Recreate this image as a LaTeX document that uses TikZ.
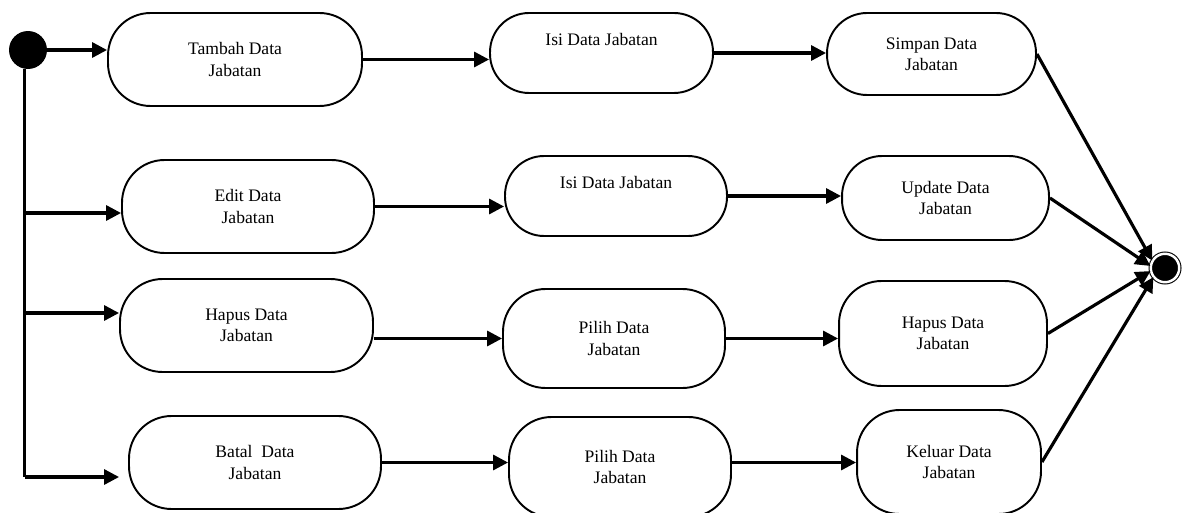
\documentclass[tikz,border=0pt]{standalone}
\usepackage{fontspec}
\setmainfont{Liberation Serif}
\usetikzlibrary{arrows.meta,calc}

\begin{document}
\begin{tikzpicture}[x=0.02cm,y=-0.02cm,
    act/.style={draw,line width=1.1pt,rounded corners=0.85cm,align=center,inner sep=0pt},
    arr/.style={line width=1.8pt,-{Triangle[length=0.3cm,width=0.3cm]}},
    ln/.style={line width=1.8pt}]
    \useasboundingbox (0,0) rectangle (1185,513);
    \draw
    (28,50) node[circle,fill=black,minimum size=0.76cm,inner sep=0pt](S){}
    (235,59.5) node[act,minimum width=5.08cm,minimum height=1.86cm](Tb){Tambah Data\\Jabatan}
    (601.5,53) node[act,rounded corners=0.78cm,minimum width=4.46cm,minimum height=1.6cm](Is1){Isi Data Jabatan\\ \strut}
    (931.5,54) node[act,rounded corners=0.8cm,minimum width=4.18cm,minimum height=1.64cm](Sp){Simpan Data\\Jabatan}
    (248,206.5) node[act,minimum width=5.04cm,minimum height=1.86cm](Ed){Edit Data\\Jabatan}
    (616,196) node[act,rounded corners=0.78cm,minimum width=4.44cm,minimum height=1.6cm](Is2){Isi Data Jabatan\\ \strut}
    (945.5,198) node[act,rounded corners=0.8cm,minimum width=4.14cm,minimum height=1.68cm](Up){Update Data\\Jabatan}
    (246.5,325.5) node[act,minimum width=5.06cm,minimum height=1.86cm](Hp1){Hapus Data\\Jabatan}
    (614,338.5) node[act,minimum width=4.44cm,minimum height=1.98cm](Pl1){Pilih Data\\Jabatan}
    (943,333.5) node[act,minimum width=4.16cm,minimum height=2.1cm](Hp2){Hapus Data\\Jabatan}
    (255,462.5) node[act,minimum width=5.04cm,minimum height=1.86cm](Bt){Batal~~Data\\Jabatan}
    (620,467) node[act,minimum width=4.44cm,minimum height=2cm](Pl2){Pilih Data\\Jabatan}
    (949,462) node[act,minimum width=3.68cm,minimum height=2.08cm](Kl){Keluar Data\\Jabatan}
    (1165,268) node[circle,fill=black,draw,double,double distance=1.4pt,line width=0.6pt,
                    minimum size=0.569cm,inner sep=0pt](E){};
    \coordinate (J1) at (24.5,213);
    \coordinate (J2) at (24.5,313);
    \coordinate (J3) at (24.5,477);
    \draw[ln] (S.south -| J3) -- (J3);
    \draw (S) edge[arr] (S -| Tb.west)
          (J1) edge[arr] (J1 -| Ed.west)
          (J2) edge[arr] (J2 -| Hp1.west)
          (J3) edge[arr,shorten >=0.18cm] (J3 -| Bt.west)
          (Tb.east) edge[arr] (Tb.east -| Is1.west)
          (Is1.east) edge[arr] (Is1.east -| Sp.west)
          (Ed.east) edge[arr] (Ed.east -| Is2.west)
          (Is2.east) edge[arr] (Is2.east -| Up.west)
          (Hp1.east |- Pl1.west) edge[arr] (Pl1.west)
          (Pl1.east) edge[arr] (Pl1.east -| Hp2.west)
          (Bt.east) edge[arr] (Bt.east -| Pl2.west)
          (Bt.east -| Pl2.east) edge[arr] (Bt.east -| Kl.west)
          (Sp.east) edge[arr] (E.150)
          (Up.east) edge[arr] (E.172)
          (Hp2.east) edge[arr] (E.192)
          (Kl.east) edge[arr] (E.218);
\end{tikzpicture}
\end{document}
